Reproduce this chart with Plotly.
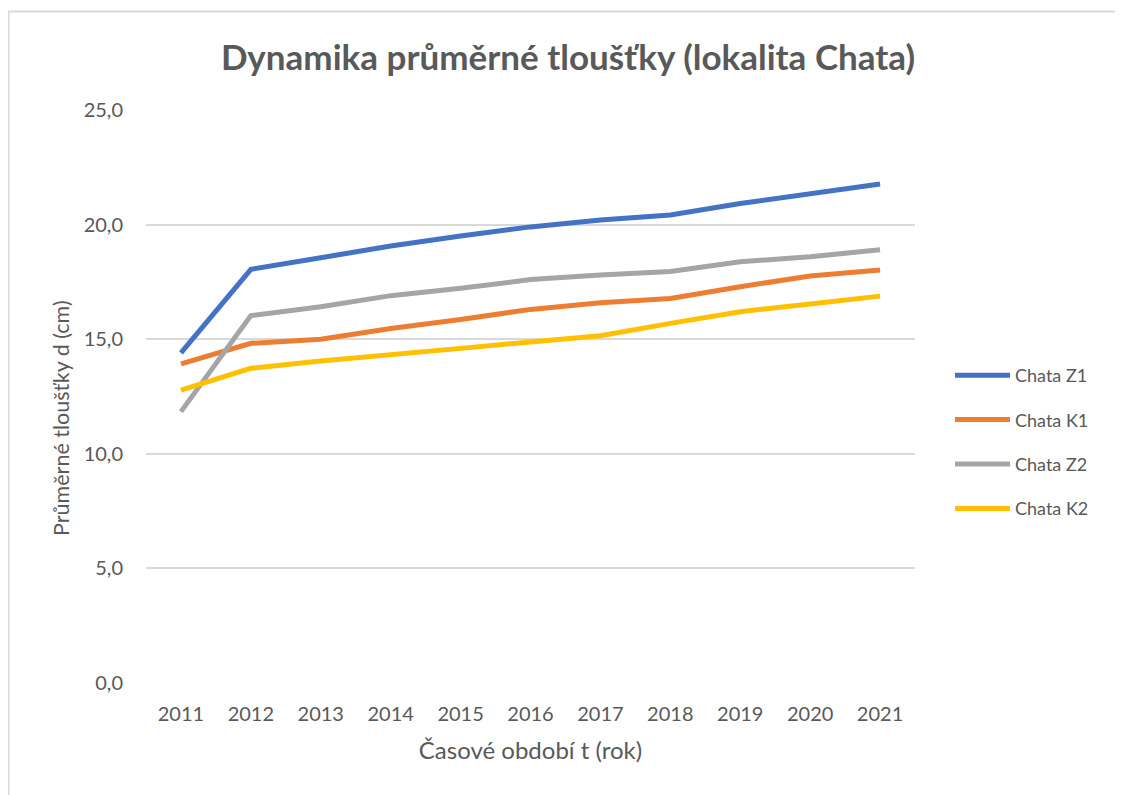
import plotly.graph_objects as go

years = ["2011", "2012", "2013", "2014", "2015", "2016", "2017", "2018", "2019", "2020", "2021"]
chata_z1 = [14.4, 18.05, 18.55, 19.07, 19.5, 19.9, 20.2, 20.42, 20.92, 21.35, 21.77]
chata_k1 = [13.92, 14.82, 15.0, 15.47, 15.86, 16.3, 16.59, 16.78, 17.29, 17.76, 18.02]
chata_z2 = [11.84, 16.03, 16.42, 16.9, 17.22, 17.6, 17.8, 17.95, 18.38, 18.6, 18.9]
chata_k2 = [12.78, 13.73, 14.05, 14.3, 14.6, 14.88, 15.15, 15.69, 16.2, 16.54, 16.88]

series = [
    ("Chata Z1", chata_z1, "#4472C4"),
    ("Chata K1", chata_k1, "#ED7D31"),
    ("Chata Z2", chata_z2, "#A5A5A5"),
    ("Chata K2", chata_k2, "#FFC000"),
]

FONT = "Lato"
GREY = "#595959"

fig = go.Figure()
for i, (name, vals, col) in enumerate(series):
    fig.add_trace(go.Scatter(x=years, y=vals, name=name, mode="lines",
                             legendgroup=f"g{i}",
                             line=dict(color=col, width=5)))

W, H = 1123, 795
OFF = 8  # page body margin
L, R, T, B = 146 - OFF, 915 - OFF, 110 - OFF, 683 - OFF
pw = R - L
ph = B - T

def px_x(x):
    return (x - L) / pw

def px_y(y):
    return (B - y) / ph

fig.update_layout(
    width=W, height=H,
    margin=dict(l=L, r=W - R, t=T, b=H - B, autoexpand=False),
    paper_bgcolor="white", plot_bgcolor="white",
    separators=",.",
    font=dict(family=FONT, color=GREY, size=20),
    title=dict(text="<b>Dynamika průměrné tloušťky (lokalita Chata)</b>",
               xref="container", x=(568 - OFF) / W, xanchor="center",
               yref="container", y=1 - (58 - OFF) / H, yanchor="middle",
               font=dict(size=35, color=GREY, family=FONT)),
    xaxis=dict(type="category", range=[-0.5, 10.5], showgrid=False,
               showline=False, ticks="", tickfont=dict(size=20, color=GREY),
               ticklabelstandoff=17,
               title=dict(text="Časové období t (rok)", font=dict(size=24, color=GREY), standoff=18),
               fixedrange=True),
    yaxis=dict(range=[0, 25], dtick=5, tickformat=".1f", showgrid=True,
               gridcolor="#D9D9D9", gridwidth=1.5, zeroline=False, showline=False,
               ticks="", tickfont=dict(size=20, color=GREY), ticklabelstandoff=22,
               fixedrange=True),
    legend=dict(x=px_x(950 - OFF), y=px_y(357 - OFF), xanchor="left", yanchor="top",
                font=dict(size=18, color=GREY), tracegroupgap=18,
                itemwidth=55, bgcolor="rgba(0,0,0,0)"),
    annotations=[
        dict(text="Průměrné tloušťky d (cm)", textangle=-90, showarrow=False,
             xref="paper", yref="paper", x=px_x(61 - OFF), y=px_y(418 - OFF),
             xanchor="center", yanchor="middle",
             font=dict(size=21.5, color=GREY, family=FONT)),
    ],
    shapes=[
        dict(type="line", xref="paper", yref="paper", x0=px_x(0), x1=px_x(1130),
             y0=px_y(3.5), y1=px_y(3.5), line=dict(color="#D9D9D9", width=2)),
        dict(type="line", xref="paper", yref="paper", x0=px_x(0.5), x1=px_x(0.5),
             y0=px_y(3.5), y1=px_y(800), line=dict(color="#D9D9D9", width=2)),
    ],
)

fig.write_html("out.html")
